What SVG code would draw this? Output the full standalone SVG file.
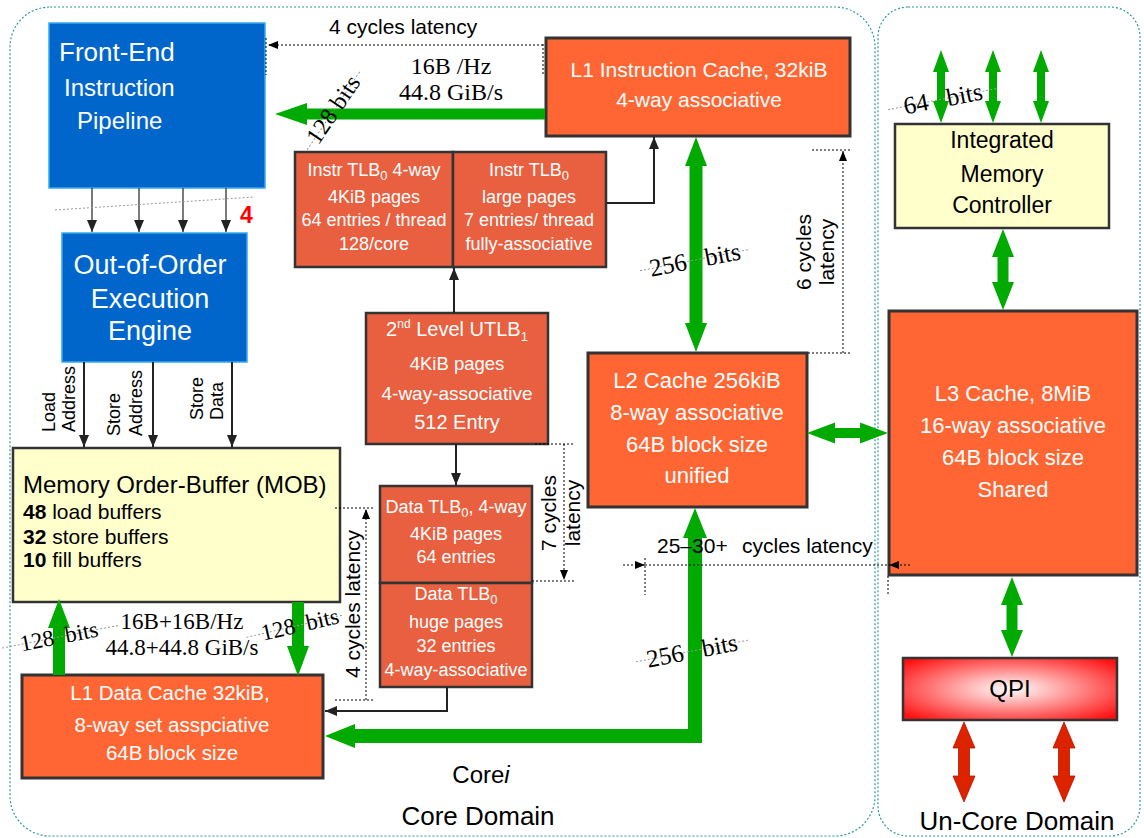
<svg xmlns="http://www.w3.org/2000/svg" width="1144" height="838" viewBox="0 0 1144 838">
<defs>
<style>
.sans{font-family:"Liberation Sans",Arial,sans-serif}
.serif{font-family:"Liberation Serif","Times New Roman",serif;fill:#000}
.w{fill:#fff}
.k{fill:#000}
.dom{fill:none;stroke:#2b9a9a;stroke-width:1.2;stroke-dasharray:2 2}
.blue{fill:#0066cc;stroke:#33aaee;stroke-width:1.5}
.cache{fill:#ff6633;stroke:#333;stroke-width:3}
.tlb{fill:#e8603f;stroke:#333;stroke-width:2.5}
.yel{fill:#ffffcc;stroke:#333;stroke-width:2.5}
.grn{fill:#00aa00}
.red{fill:#dd2200;stroke:#b01800;stroke-width:0.8}
.blk{fill:none;stroke:#222;stroke-width:2}
.thin{fill:none;stroke:#333;stroke-width:1.3}
.dot{fill:none;stroke:#000;stroke-width:1;stroke-dasharray:2 2}
.gdot{fill:none;stroke:#999;stroke-width:1;stroke-dasharray:2 2}
.pre{white-space:pre}
</style>
<marker id="ah" viewBox="0 0 12 10" refX="12" refY="5" markerWidth="12" markerHeight="10" markerUnits="userSpaceOnUse" orient="auto"><path d="M0,0 L12,5 L0,10 z" fill="#222"/></marker>
<marker id="ahs" viewBox="0 0 10 8" refX="10" refY="4" markerWidth="10" markerHeight="8" markerUnits="userSpaceOnUse" orient="auto"><path d="M0,0 L10,4 L0,8 z" fill="#000"/></marker>
<radialGradient id="qpi" cx="50%" cy="50%" r="65%"><stop offset="0" stop-color="#ffffff"/><stop offset="1" stop-color="#ff1010"/></radialGradient>
</defs>

<g id="domains">
<rect class="dom" x="10" y="7" width="865" height="829" rx="40"/>
<rect class="dom" x="878" y="7" width="262" height="829" rx="30"/>
<text class="sans k" x="481" y="783" font-size="24" text-anchor="middle">Core<tspan font-style="italic">i</tspan></text>
<text class="sans k" x="478" y="825" font-size="26" text-anchor="middle">Core Domain</text>
<text class="sans k" x="1017" y="830" font-size="26" text-anchor="middle">Un-Core Domain</text>
</g>

<g id="front-end">
<rect class="blue" x="49" y="23" width="216" height="165"/>
<text class="sans w" x="59" y="61" font-size="26">Front-End</text>
<text class="sans w" x="64" y="96" font-size="24">Instruction</text>
<text class="sans w" x="77" y="129" font-size="24">Pipeline</text>
</g>

<g id="ooo">
<rect class="blue" x="62" y="233" width="185" height="129"/>
<text class="sans w" x="150" y="274" font-size="27" text-anchor="middle">Out-of-Order</text>
<text class="sans w" x="150" y="308" font-size="27" text-anchor="middle">Execution</text>
<text class="sans w" x="150" y="340" font-size="27" text-anchor="middle">Engine</text>
</g>

<g id="l1i">
<rect class="cache" x="546" y="38" width="304" height="98"/>
<text class="sans w" x="699" y="77" font-size="21" text-anchor="middle">L1 Instruction Cache, 32kiB</text>
<text class="sans w" x="699" y="107" font-size="21" text-anchor="middle">4-way associative</text>
</g>

<g id="itlb-4k">
<rect class="tlb" x="295" y="152" width="158" height="115"/>
<text class="sans w" x="374" y="176" font-size="18" text-anchor="middle">Instr TLB<tspan font-size="13" dy="4">0</tspan><tspan dy="-4"> 4-way</tspan></text>
<text class="sans w" x="374" y="203" font-size="18" text-anchor="middle">4KiB pages</text>
<text class="sans w" x="374" y="226" font-size="18" text-anchor="middle">64 entries / thread</text>
<text class="sans w" x="374" y="250" font-size="18" text-anchor="middle">128/core</text>
</g>

<g id="itlb-large">
<rect class="tlb" x="453" y="152" width="153" height="115"/>
<text class="sans w" x="529" y="176" font-size="18" text-anchor="middle">Instr TLB<tspan font-size="13" dy="4">0</tspan></text>
<text class="sans w" x="529" y="203" font-size="18" text-anchor="middle">large pages</text>
<text class="sans w" x="529" y="226" font-size="18" text-anchor="middle">7 entries/ thread</text>
<text class="sans w" x="529" y="250" font-size="18" text-anchor="middle">fully-associative</text>
</g>

<g id="utlb">
<rect class="tlb" x="366" y="313" width="182" height="131"/>
<text class="sans w" x="457" y="336" font-size="20" text-anchor="middle">2<tspan font-size="12" dy="-8">nd</tspan><tspan dy="8"> Level UTLB</tspan><tspan font-size="13" dy="5">1</tspan></text>
<text class="sans w" x="457" y="370" font-size="18.5" text-anchor="middle">4KiB pages</text>
<text class="sans w" x="457" y="400" font-size="19" text-anchor="middle">4-way-associative</text>
<text class="sans w" x="457" y="429" font-size="20" text-anchor="middle">512 Entry</text>
</g>

<g id="dtlb-4k">
<rect class="tlb" x="380" y="486" width="152" height="97"/>
<text class="sans w" x="456" y="513" font-size="18" text-anchor="middle">Data TLB<tspan font-size="13" dy="4">0</tspan><tspan dy="-4">, 4-way</tspan></text>
<text class="sans w" x="456" y="540" font-size="18" text-anchor="middle">4KiB pages</text>
<text class="sans w" x="456" y="563" font-size="18" text-anchor="middle">64 entries</text>
</g>

<g id="dtlb-huge">
<rect class="tlb" x="380" y="583" width="152" height="104"/>
<text class="sans w" x="456" y="600" font-size="18" text-anchor="middle">Data TLB<tspan font-size="13" dy="4">0</tspan></text>
<text class="sans w" x="456" y="628" font-size="18" text-anchor="middle">huge pages</text>
<text class="sans w" x="456" y="652" font-size="18" text-anchor="middle">32 entries</text>
<text class="sans w" x="456" y="676" font-size="18" text-anchor="middle">4-way-associative</text>
</g>

<g id="mob">
<rect class="yel" x="13" y="448" width="327" height="154"/>
<text class="sans k" x="23" y="493" font-size="24">Memory Order-Buffer (MOB)</text>
<text class="sans k" x="23" y="519" font-size="21"><tspan font-weight="bold">48</tspan> load buffers</text>
<text class="sans k" x="23" y="544" font-size="21"><tspan font-weight="bold">32</tspan> store buffers</text>
<text class="sans k" x="23" y="567" font-size="21"><tspan font-weight="bold">10</tspan> fill buffers</text>
</g>

<g id="l1d">
<rect class="cache" x="22" y="675" width="301" height="103"/>
<text class="sans w" x="170" y="700" font-size="20.5" text-anchor="middle">L1 Data Cache 32kiB,</text>
<text class="sans w" x="172" y="732" font-size="20.5" text-anchor="middle">8-way set asspciative</text>
<text class="sans w" x="172" y="760" font-size="20.5" text-anchor="middle">64B block size</text>
</g>

<g id="l2">
<rect class="cache" x="588" y="353" width="219" height="154"/>
<text class="sans w" x="697" y="388" font-size="22" text-anchor="middle">L2 Cache 256kiB</text>
<text class="sans w" x="697" y="420" font-size="22" text-anchor="middle">8-way associative</text>
<text class="sans w" x="697" y="452" font-size="22" text-anchor="middle">64B block size</text>
<text class="sans w" x="697" y="483" font-size="22" text-anchor="middle">unified</text>
</g>

<g id="l3">
<rect class="cache" x="889" y="311" width="248" height="264"/>
<text class="sans w" x="1013" y="401" font-size="22" text-anchor="middle">L3 Cache, 8MiB</text>
<text class="sans w" x="1013" y="433" font-size="22" text-anchor="middle">16-way associative</text>
<text class="sans w" x="1013" y="465" font-size="22" text-anchor="middle">64B block size</text>
<text class="sans w" x="1013" y="497" font-size="22" text-anchor="middle">Shared</text>
</g>

<g id="imc">
<rect class="yel" x="895" y="124" width="214" height="104"/>
<text class="sans k" x="1002" y="148" font-size="23" text-anchor="middle">Integrated</text>
<text class="sans k" x="1002" y="182" font-size="23" text-anchor="middle">Memory</text>
<text class="sans k" x="1002" y="213" font-size="23" text-anchor="middle">Controller</text>
</g>

<g id="qpi-node">
<rect x="903" y="658" width="214" height="62" fill="url(#qpi)" stroke="#333" stroke-width="2.5"/>
<text class="sans k" x="1010" y="697" font-size="24" text-anchor="middle">QPI</text>
</g>

<g id="connectors">
<polygon class="grn" points="545,108.5 307,108.5 307,103 275,114 307,125 307,119.5 545,119.5"/>
<polygon class="grn" points="696,137 707,166 702.5,166 702.5,323 707,323 696,352 685,323 689.5,323 689.5,166 685,166"/>
<polygon class="grn" points="807,433 835,422.5 835,428 860,428 860,422.5 888,433 860,443.5 860,438 835,438 835,443.5"/>
<polygon class="grn" points="695,508 707,538 702,538 702,743 355,743 355,748 325,736 355,724 355,729 688,729 688,538 683,538"/>
<polygon class="grn" points="59,599 70,628 65,628 65,675 53,675 53,628 48,628"/>
<polygon class="grn" points="292,602 304,602 304,646 309,646 298,676 287,646 292,646"/>
<polygon class="grn" points="941,50 949,72 945,72 945,101 949,101 941,123 933,101 937,101 937,72 933,72"/>
<polygon class="grn" points="993,50 1001,72 997,72 997,101 1001,101 993,123 985,101 989,101 989,72 985,72"/>
<polygon class="grn" points="1041,50 1049,72 1045,72 1045,101 1049,101 1041,123 1033,101 1037,101 1037,72 1033,72"/>
<polygon class="grn" points="1003,229 1014,257 1008.5,257 1008.5,282 1014,282 1003,310 992,282 997.5,282 997.5,257 992,257"/>
<polygon class="grn" points="1012,577 1023,605 1017.5,605 1017.5,630 1023,630 1012,657 1001,630 1006.5,630 1006.5,605 1001,605"/>
<polygon class="red" points="964,722 975,748 969.5,748 969.5,776 975,776 964,802 953,776 958.5,776 958.5,748 953,748"/>
<polygon class="red" points="1064,722 1075,748 1069.5,748 1069.5,776 1075,776 1064,802 1053,776 1058.5,776 1058.5,748 1053,748"/>

<path class="blk" d="M607,203 H654 V137" marker-end="url(#ah)"/>
<path class="blk" d="M454,313 V268" marker-end="url(#ah)"/>
<path class="blk" d="M456,444 V485" marker-end="url(#ah)"/>
<path class="blk" d="M447,687 V711 H325" marker-end="url(#ah)"/>
<path class="thin" d="M92,188 V232" marker-end="url(#ah)"/>
<path class="thin" d="M139,188 V232" marker-end="url(#ah)"/>
<path class="thin" d="M183,188 V232" marker-end="url(#ah)"/>
<path class="thin" d="M226,188 V232" marker-end="url(#ah)"/>
<path class="blk" d="M84,362 V447" marker-end="url(#ah)"/>
<path class="blk" d="M153,362 V447" marker-end="url(#ah)"/>
<path class="blk" d="M232,362 V447" marker-end="url(#ah)"/>

<path class="dot" d="M543,45 H268" marker-end="url(#ahs)"/>
<path class="dot" d="M266,38 V75 M543,44 V75"/>
<path class="dot" d="M843,353 V151" marker-end="url(#ahs)"/>
<path class="dot" d="M812,150 H850 M808,353 H850"/>
<path class="dot" d="M564,444 V580" marker-end="url(#ahs)"/>
<path class="dot" d="M535,444 H574 M532,581 H574"/>
<path class="dot" d="M366,700 V509" marker-end="url(#ahs)"/>
<path class="dot" d="M335,508 H374 M335,700 H374"/>
<path class="dot" d="M623,565 H645" marker-end="url(#ahs)"/>
<path class="dot" d="M910,565 H889" marker-end="url(#ahs)"/>
<path class="dot" d="M645,565 H889 M645,558 V595 M888,576 V595"/>
<line class="gdot" x1="55" y1="210" x2="255" y2="197"/>
</g>

<g id="labels">
<text class="sans k" x="329" y="34" font-size="21">4 cycles latency</text>
<text class="serif" x="451" y="74" font-size="24" text-anchor="middle">16B /Hz</text>
<text class="serif" x="451" y="100" font-size="24" text-anchor="middle">44.8 GiB/s</text>
<text class="serif" x="182" y="629" font-size="23" text-anchor="middle">16B+16B/Hz</text>
<text class="serif" x="182" y="655" font-size="23" text-anchor="middle">44.8+44.8 GiB/s</text>
<text class="sans" x="240" y="223" font-size="23" font-weight="bold" fill="#ff0000">4</text>
<text class="sans k" x="657" y="553" font-size="21">25–30+<tspan x="742">cycles latency</tspan></text>

<text class="sans k" font-size="21" text-anchor="middle" transform="translate(556,513) rotate(-90)">7 cycles</text>
<text class="sans k" font-size="21" text-anchor="middle" transform="translate(580,513) rotate(-90)">latency</text>
<text class="sans k" font-size="21" text-anchor="middle" transform="translate(811,252) rotate(-90)">6 cycles</text>
<text class="sans k" font-size="21" text-anchor="middle" transform="translate(834,252) rotate(-90)">latency</text>
<text class="sans k" font-size="21" text-anchor="middle" transform="translate(360,604) rotate(-90)">4 cycles latency</text>

<text class="sans k" font-size="18" transform="translate(55,432) rotate(-90)">Load</text>
<text class="sans k" font-size="18" transform="translate(75,432) rotate(-90)">Address</text>
<text class="sans k" font-size="18" transform="translate(120,436) rotate(-90)">Store</text>
<text class="sans k" font-size="18" transform="translate(142,436) rotate(-90)">Address</text>
<text class="sans k" font-size="18" transform="translate(203,420) rotate(-90)">Store</text>
<text class="sans k" font-size="18" transform="translate(223,420) rotate(-90)">Data</text>

<g transform="translate(334,110) rotate(-56)">
<line class="gdot" x1="-48" y1="0" x2="48" y2="0"/>
<text class="serif pre" x="0" y="7" font-size="24" text-anchor="middle" xml:space="preserve">128 bits</text>
</g>
<g transform="translate(59,637) rotate(-11)">
<line class="gdot" x1="-62" y1="0" x2="60" y2="0"/>
<text class="serif pre" x="0" y="7" font-size="23" text-anchor="middle" xml:space="preserve">128  bits</text>
</g>
<g transform="translate(300,625) rotate(-13)">
<line class="gdot" x1="-55" y1="0" x2="45" y2="0"/>
<text class="serif pre" x="0" y="7" font-size="23" text-anchor="middle" xml:space="preserve">128  bits</text>
</g>
<g transform="translate(695,260) rotate(-11)">
<line class="gdot" x1="-56" y1="0" x2="56" y2="0"/>
<text class="serif pre" x="0" y="8" font-size="25" text-anchor="middle" xml:space="preserve">256   bits</text>
</g>
<g transform="translate(692,651) rotate(-11)">
<line class="gdot" x1="-57" y1="0" x2="57" y2="0"/>
<text class="serif pre" x="0" y="8" font-size="25" text-anchor="middle" xml:space="preserve">256   bits</text>
</g>
<g transform="translate(943,99) rotate(-11)">
<line class="gdot" x1="-56" y1="0" x2="56" y2="0"/>
<text class="serif pre" x="0" y="8" font-size="25" text-anchor="middle" xml:space="preserve">64   bits</text>
</g>
</g>
</svg>
